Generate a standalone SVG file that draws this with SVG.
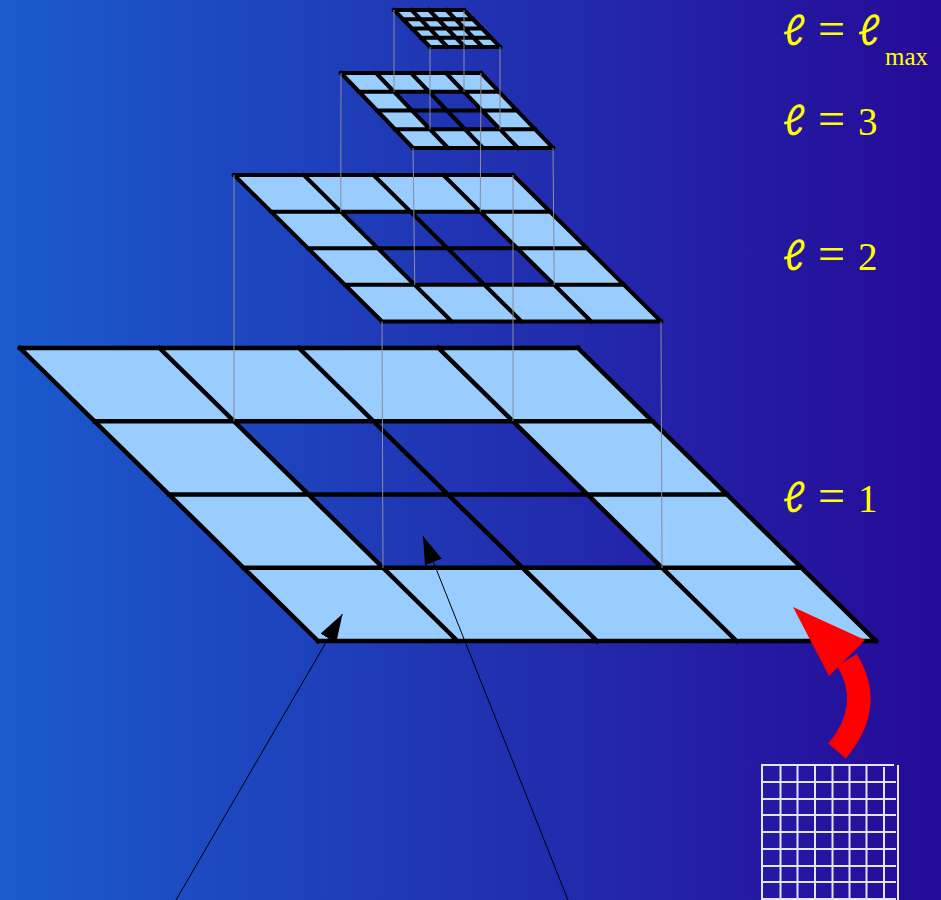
<svg xmlns="http://www.w3.org/2000/svg" width="941" height="900" viewBox="0 0 941 900">
<defs>
<linearGradient id="bg" x1="0" y1="0" x2="1" y2="0">
<stop offset="0" stop-color="#1A5BCD"/>
<stop offset="1" stop-color="#260A98"/>
</linearGradient>
<marker id="ah" viewBox="0 0 28 18" refX="28" refY="9" markerWidth="28" markerHeight="18" markerUnits="userSpaceOnUse" orient="auto">
<path d="M0,0 L28,9 L0,18 Z" fill="#000"/>
</marker>
<style>
.cell{fill:#99CCFF;fill-rule:evenodd;stroke:none}
.grid{fill:none;stroke:#000;vector-effect:non-scaling-stroke;stroke-linecap:square}
.vl{stroke:#8C8C9C;stroke-width:1;fill:none}
.lbl{font-family:"Liberation Serif",serif;fill:#FFFF00;font-size:39px}
.ell{font-size:42px;font-family:Lato,"Liberation Serif",serif;font-style:italic}
.eq{font-size:48px}
.sq{stroke:#E4E4F6;stroke-width:2;fill:none}
.pt{stroke:#000;stroke-width:1;fill:none;marker-end:url(#ah)}
</style>
</defs>
<rect width="941" height="900" fill="url(#bg)"/>

<g id="level1" transform="matrix(139.5 0 74.5 73.25 20 348)">
<path class="cell" d="M0 0H4V4H0Z M1 1H3V3H1Z"/>
<path class="grid" stroke-width="4.5" d="M0 0H4M0 1H4M0 2H4M0 3H4M0 4H4M0 0V4M1 0V4M2 0V4M3 0V4M4 0V4"/>
</g>

<g id="level2" transform="matrix(69.75 0 37 36.625 234 175)">
<path class="cell" d="M0 0H4V4H0Z M1 1H3V3H1Z"/>
<path class="grid" stroke-width="4" d="M0 0H4M0 1H4M0 2H4M0 3H4M0 4H4M0 0V4M1 0V4M2 0V4M3 0V4M4 0V4"/>
</g>

<g id="level3" transform="matrix(35 0 18 18.75 341 73)">
<path class="cell" d="M0 0H4V4H0Z M1 1H3V3H1Z"/>
<path class="grid" stroke-width="4" d="M0 0H4M0 1H4M0 2H4M0 3H4M0 4H4M0 0V4M1 0V4M2 0V4M3 0V4M4 0V4"/>
</g>

<g id="levelmax" transform="matrix(17.5 0 9 9.25 394 10)">
<path class="cell" d="M0 0H4V4H0Z"/>
<path class="grid" stroke-width="4" d="M0 0H4M0 1H4M0 2H4M0 3H4M0 4H4M0 0V4M1 0V4M2 0V4M3 0V4M4 0V4"/>
</g>

<g id="connectors">
<path class="vl" d="M394 10V91.75M464 10V91.75M430 47V129.25M500 47V129.25"/>
<path class="vl" d="M341 73L340.75 211.6M481 73L480.25 211.6M413 148L414.75 284.9M553 148L554.25 284.9"/>
<path class="vl" d="M234 175V421.25M513 175V421.25M382 321.5L383 567.75M661 321.5L662 567.75"/>
<line class="pt" x1="176" y1="900" x2="342.5" y2="614"/>
<line class="pt" x1="568" y1="900" x2="423" y2="536"/>
</g>

<g id="red-arrow">
<path d="M847 660 Q875 706 837 751" fill="none" stroke="#FF0000" stroke-width="23"/>
<polygon points="793,607 829,676 865,640" fill="#FF0000"/>
</g>

<g id="fine-grid">
<path class="sq" d="M762 764V900M780.5 764V900M797.5 764V900M815 764V900M832.5 764V900M849.5 764V900M866.5 764V900M884 767V900M898 765V900"/>
<path class="sq" d="M761 765H894M761 782H896M761 799H896M761 815H896M761 832H896M761 849H896M761 866H896M761 882H896M761 899H896"/>
</g>

<g id="labels">
<text class="lbl" y="45"><tspan class="ell" x="783">ℓ</tspan><tspan class="eq" x="818">=</tspan><tspan class="ell" x="858">ℓ</tspan><tspan x="885" y="65" font-size="25">max</tspan></text>
<text class="lbl" y="135"><tspan class="ell" x="783">ℓ</tspan><tspan class="eq" x="818">=</tspan><tspan x="858">3</tspan></text>
<text class="lbl" y="270"><tspan class="ell" x="783">ℓ</tspan><tspan class="eq" x="818">=</tspan><tspan x="858">2</tspan></text>
<text class="lbl" y="512"><tspan class="ell" x="783">ℓ</tspan><tspan class="eq" x="818">=</tspan><tspan x="858">1</tspan></text>
</g>
</svg>
